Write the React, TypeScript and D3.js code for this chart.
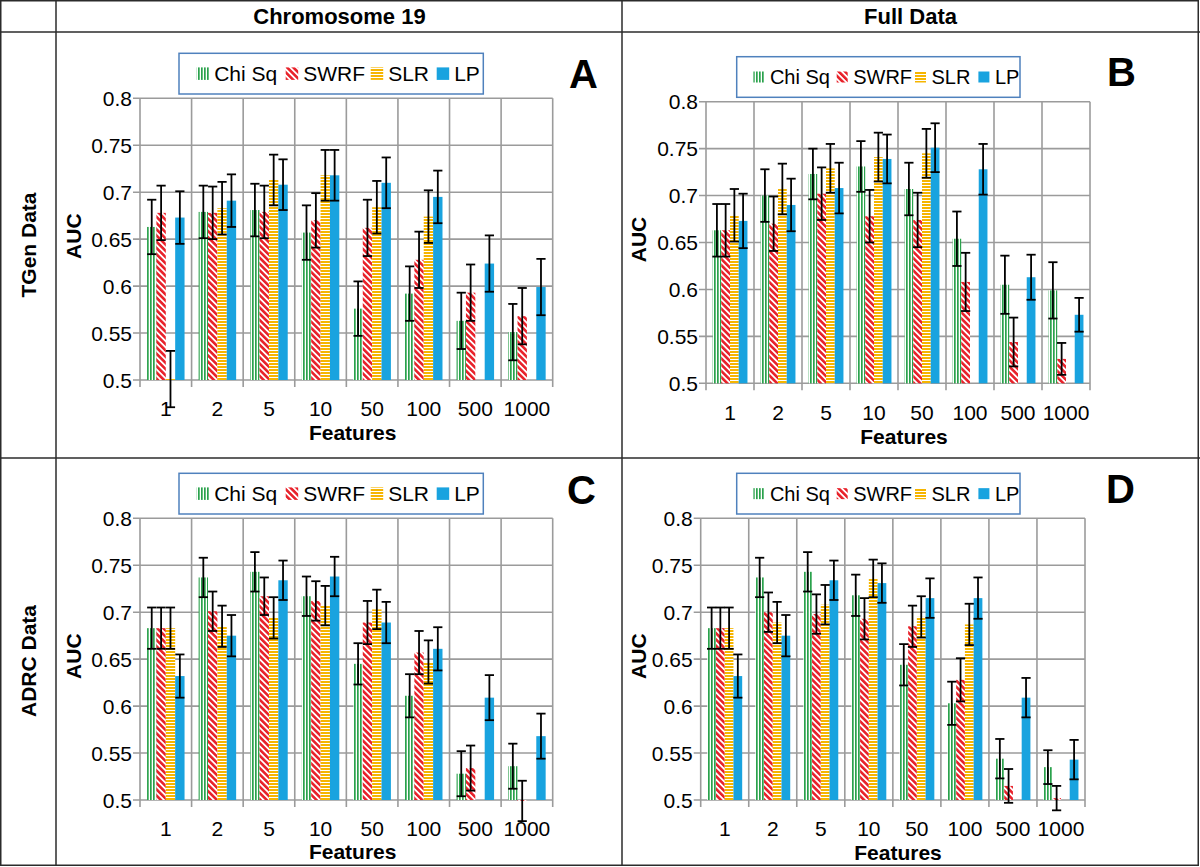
import React from 'react';
import * as d3 from 'd3';

const features = ['1', '2', '5', '10', '50', '100', '500', '1000'];
const seriesNames = ['Chi Sq', 'SWRF', 'SLR', 'LP'];
const yTicks = [0.5, 0.55, 0.6, 0.65, 0.7, 0.75, 0.8];
const columnHeaders = ['Chromosome 19', 'Full Data'];
const rowHeaders = ['TGen Data', 'ADRC Data'];

// Panel A: TGen, Chromosome 19
const aChiSq = [0.663, 0.679, 0.681, 0.657, 0.576, 0.592, 0.563, 0.551];
const aChiSqErr = [0.029, 0.028, 0.028, 0.029, 0.029, 0.029, 0.030, 0.030];
const aSwrf = [0.678, 0.678, 0.679, 0.670, 0.662, 0.628, 0.593, 0.568];
const aSwrfErr = [0.029, 0.028, 0.028, 0.029, 0.030, 0.030, 0.030, 0.030];
const aSlr = [0.501, 0.683, 0.713, 0.718, 0.684, 0.674, null, null];
const aSlrErr = [0.030, 0.028, 0.027, 0.027, 0.028, 0.028, null, null];
const aLp = [0.673, 0.691, 0.708, 0.718, 0.710, 0.695, 0.624, 0.599];
const aLpErr = [0.028, 0.028, 0.027, 0.027, 0.027, 0.028, 0.030, 0.030];

// Panel B: TGen, Full Data
const bChiSq = [0.663, 0.700, 0.723, 0.731, 0.707, 0.654, 0.605, 0.599];
const bChiSqErr = [0.028, 0.028, 0.027, 0.027, 0.028, 0.029, 0.031, 0.030];
const bSwrf = [0.663, 0.670, 0.702, 0.678, 0.674, 0.608, 0.544, 0.526];
const bSwrfErr = [0.028, 0.029, 0.028, 0.028, 0.029, 0.031, 0.026, 0.017];
const bSlr = [0.679, 0.707, 0.729, 0.741, 0.745, null, null, null];
const bSlrErr = [0.028, 0.027, 0.026, 0.026, 0.026, null, null, null];
const bLp = [0.673, 0.690, 0.708, 0.739, 0.751, 0.728, 0.613, 0.573];
const bLpErr = [0.029, 0.028, 0.027, 0.026, 0.026, 0.027, 0.024, 0.018];

// Panel C: ADRC, Chromosome 19
const cChiSq = [0.683, 0.737, 0.743, 0.717, 0.645, 0.611, 0.528, 0.536];
const cChiSqErr = [0.022, 0.021, 0.021, 0.021, 0.022, 0.023, 0.024, 0.024];
const cSwrf = [0.683, 0.701, 0.717, 0.712, 0.689, 0.657, 0.534, 0.499];
const cSwrfErr = [0.022, 0.021, 0.020, 0.021, 0.023, 0.023, 0.024, 0.0215];
const cSlr = [0.683, 0.685, 0.694, 0.707, 0.703, 0.647, null, null];
const cSlrErr = [0.022, 0.022, 0.022, 0.021, 0.021, 0.023, null, null];
const cLp = [0.632, 0.675, 0.734, 0.738, 0.689, 0.661, 0.609, 0.568];
const cLpErr = [0.023, 0.022, 0.021, 0.021, 0.022, 0.023, 0.024, 0.024];

// Panel D: ADRC, Full Data
const dChiSq = [0.683, 0.737, 0.743, 0.718, 0.644, 0.603, 0.544, 0.535];
const dChiSqErr = [0.022, 0.021, 0.021, 0.022, 0.022, 0.023, 0.021, 0.018];
const dSwrf = [0.683, 0.700, 0.698, 0.693, 0.685, 0.628, 0.515, 0.502];
const dSwrfErr = [0.022, 0.021, 0.021, 0.022, 0.022, 0.023, 0.018, 0.013];
const dSlr = [0.683, 0.689, 0.708, 0.736, 0.695, 0.687, null, null];
const dSlrErr = [0.022, 0.022, 0.021, 0.020, 0.022, 0.022, null, null];
const dLp = [0.632, 0.675, 0.734, 0.731, 0.715, 0.715, 0.609, 0.543];
const dLpErr = [0.023, 0.022, 0.021, 0.021, 0.021, 0.022, 0.021, 0.021];

const FONT = "'Liberation Sans', Arial, Helvetica, sans-serif";
const GRID = '#9b9b9b';
const fills = ['url(#patChi)', 'url(#patSwrf)', 'url(#patSlr)', 'url(#patLp)'];

type Layout = {
  left: number; right: number; top: number; bottom: number;
  legend: { x: number; y: number; w: number; h: number };
  legendItems: number[]; swatch: number; legendFont: number; textGap: number;
  letter: { x: number; y: number };
  xLabY: number; featX: number; featY: number; aucX: number;
};

const panels: { id: string; values: (number | null)[][]; errs: (number | null)[][]; layout: Layout }[] = [
  {
    id: 'A',
    values: [aChiSq, aSwrf, aSlr, aLp],
    errs: [aChiSqErr, aSwrfErr, aSlrErr, aLpErr],
    layout: {
      left: 140, right: 552.7, top: 98.3, bottom: 380,
      legend: { x: 179, y: 53.3, w: 304.3, h: 40.7 },
      legendItems: [17.7, 106.7, 191.7, 257.7], swatch: 12.5, legendFont: 21, textGap: 17.5,
      letter: { x: 569, y: 87.5 },
      xLabY: 415.5, featX: 352.7, featY: 440, aucX: 73,
    },
  },
  {
    id: 'B',
    values: [bChiSq, bSwrf, bSlr, bLp],
    errs: [bChiSqErr, bSwrfErr, bSlrErr, bLpErr],
    layout: {
      left: 706, right: 1090, top: 101.7, bottom: 383.3,
      legend: { x: 736.7, y: 56.7, w: 283.3, h: 40.6 },
      legendItems: [16.7, 100, 178.3, 241.7], swatch: 11, legendFont: 20, textGap: 16.5,
      letter: { x: 1107, y: 86 },
      xLabY: 420, featX: 904, featY: 443.5, aucX: 638,
    },
  },
  {
    id: 'C',
    values: [cChiSq, cSwrf, cSlr, cLp],
    errs: [cChiSqErr, cSwrfErr, cSlrErr, cLpErr],
    layout: {
      left: 140, right: 552.7, top: 518.3, bottom: 800,
      legend: { x: 179, y: 473.3, w: 304.3, h: 40.7 },
      legendItems: [17.7, 106.7, 191.7, 257.7], swatch: 12.5, legendFont: 21, textGap: 17.5,
      letter: { x: 567, y: 503.5 },
      xLabY: 835.5, featX: 352.7, featY: 859, aucX: 73,
    },
  },
  {
    id: 'D',
    values: [dChiSq, dSwrf, dSlr, dLp],
    errs: [dChiSqErr, dSwrfErr, dSlrErr, dLpErr],
    layout: {
      left: 700.7, right: 1085, top: 518.3, bottom: 800,
      legend: { x: 736.7, y: 473.3, w: 283.3, h: 40.7 },
      legendItems: [16.7, 100, 178.3, 241.7], swatch: 11, legendFont: 20, textGap: 16.5,
      letter: { x: 1106, y: 502.5 },
      xLabY: 836, featX: 898, featY: 860, aucX: 638,
    },
  },
];

function Panel({ p }: { p: (typeof panels)[number] }) {
  const L = p.layout;
  const x = d3.scaleBand<string>().domain(features).range([L.left, L.right]).paddingInner(0).paddingOuter(0);
  const xs = d3.scaleBand<string>().domain(seriesNames).range([0, x.bandwidth()]).paddingInner(0).paddingOuter(0.75);
  const y = d3.scaleLinear().domain([0.5, 0.8]).range([L.bottom, L.top]);
  const boundaries = features.map((f) => x(f) as number).concat([L.right]);
  const y0 = y(0.5);

  return (
    <g>
      {yTicks.map((t) => (
        <line key={'h' + t} x1={L.left - 7} x2={L.right} y1={y(t)} y2={y(t)} stroke={GRID} strokeWidth={1.6} />
      ))}
      {boundaries.map((b, i) => (
        <line key={'v' + i} x1={b} x2={b} y1={L.top} y2={L.bottom + 7} stroke={GRID} strokeWidth={1.6} />
      ))}
      {p.values.map((vals, si) =>
        vals.map((v, ci) => {
          if (v == null) return null;
          const bx = (x(features[ci]) as number) + (xs(seriesNames[si]) as number);
          const yy = y(v);
          return (
            <rect key={`b${si}-${ci}`} x={bx} y={Math.min(yy, y0)} width={xs.bandwidth()}
              height={Math.max(Math.abs(y0 - yy), 0.8)} fill={fills[si]} />
          );
        })
      )}
      {p.values.map((vals, si) =>
        vals.map((v, ci) => {
          const e = p.errs[si][ci];
          if (v == null || e == null) return null;
          const cx = (x(features[ci]) as number) + (xs(seriesNames[si]) as number) + xs.bandwidth() / 2;
          const yt = y(v + e);
          const yb = y(v - e);
          const cw = 4.6;
          return (
            <g key={`e${si}-${ci}`} stroke="#000" strokeWidth={1.8}>
              <line x1={cx} x2={cx} y1={yt} y2={yb} />
              <line x1={cx - cw} x2={cx + cw} y1={yt} y2={yt} />
              <line x1={cx - cw} x2={cx + cw} y1={yb} y2={yb} />
            </g>
          );
        })
      )}
      {yTicks.map((t) => (
        <text key={'yl' + t} x={L.left - 8} y={y(t)} dy="0.36em" textAnchor="end" fontSize={21} fontFamily={FONT} fill="#000">
          {String(t)}
        </text>
      ))}
      {features.map((f) => (
        <text key={'xl' + f} x={(x(f) as number) + x.bandwidth() / 2} y={L.xLabY} textAnchor="middle" fontSize={21} fontFamily={FONT} fill="#000">
          {f}
        </text>
      ))}
      <text x={L.featX} y={L.featY} textAnchor="middle" fontSize={21} fontWeight="bold" fontFamily={FONT}>Features</text>
      <text transform={`translate(${L.aucX},${(L.top + L.bottom) / 2 - 3}) rotate(-90)`} textAnchor="middle" dy="0.36em"
        fontSize={21} fontWeight="bold" fontFamily={FONT}>AUC</text>
      <rect x={L.legend.x} y={L.legend.y} width={L.legend.w} height={L.legend.h} fill="#fff" stroke="#4f81bd" strokeWidth={1.5} />
      {seriesNames.map((s, i) => {
        const sx = L.legend.x + L.legendItems[i];
        const cy = L.legend.y + L.legend.h / 2;
        return (
          <g key={'lg' + s}>
            <rect x={sx} y={cy - L.swatch / 2} width={L.swatch} height={L.swatch} fill={fills[i]} />
            <text x={sx + L.textGap} y={cy} dy="0.36em" fontSize={L.legendFont} fontFamily={FONT}>{s}</text>
          </g>
        );
      })}
      <text x={L.letter.x} y={L.letter.y} fontSize={40} fontWeight="bold" fontFamily={FONT}>{p.id}</text>
    </g>
  );
}

export default function App() {
  const W = 1200;
  const H = 867;
  return (
    <svg width={W} height={H} viewBox={`0 0 ${W} ${H}`} style={{ position: 'absolute', left: 0, top: 0, background: '#fff' }}>
      <defs>
        <pattern id="patChi" patternUnits="userSpaceOnUse" width={3} height={3}>
          <rect width={3} height={3} fill="#fff" />
          <rect width={1.7} height={3} fill="#2aa24c" />
        </pattern>
        <pattern id="patSwrf" patternUnits="userSpaceOnUse" width={4.4} height={4.4} patternTransform="rotate(-45)">
          <rect width={4.4} height={4.4} fill="#fff" />
          <rect width={2.6} height={4.4} fill="#e8212a" />
        </pattern>
        <pattern id="patSlr" patternUnits="userSpaceOnUse" width={3} height={3}>
          <rect width={3} height={3} fill="#fff" />
          <rect width={3} height={2} fill="#f6b500" />
        </pattern>
        <pattern id="patLp" patternUnits="userSpaceOnUse" width={4} height={4}>
          <rect width={4} height={4} fill="#19a3df" />
        </pattern>
      </defs>
      <rect width={W} height={H} fill="#fff" />
      <g stroke="#2b2b2b" strokeWidth={1.5} fill="none">
        <rect x={0.75} y={0.75} width={1197.5} height={864.5} />
        <line x1={56} x2={56} y1={0} y2={866} />
        <line x1={622} x2={622} y1={0} y2={866} />
        <line x1={0} x2={1200} y1={32} y2={32} />
        <line x1={0} x2={1200} y1={458} y2={458} />
      </g>
      <text x={339.5} y={24} textAnchor="middle" fontSize={22} fontWeight="bold" fontFamily={FONT}>{columnHeaders[0]}</text>
      <text x={910.5} y={24} textAnchor="middle" fontSize={22} fontWeight="bold" fontFamily={FONT}>{columnHeaders[1]}</text>
      <text transform="translate(28,245) rotate(-90)" textAnchor="middle" dy="0.36em" fontSize={21} fontWeight="bold" fontFamily={FONT}>{rowHeaders[0]}</text>
      <text transform="translate(28,661) rotate(-90)" textAnchor="middle" dy="0.36em" fontSize={21} fontWeight="bold" fontFamily={FONT}>{rowHeaders[1]}</text>
      {panels.map((p) => (
        <Panel key={p.id} p={p} />
      ))}
    </svg>
  );
}
